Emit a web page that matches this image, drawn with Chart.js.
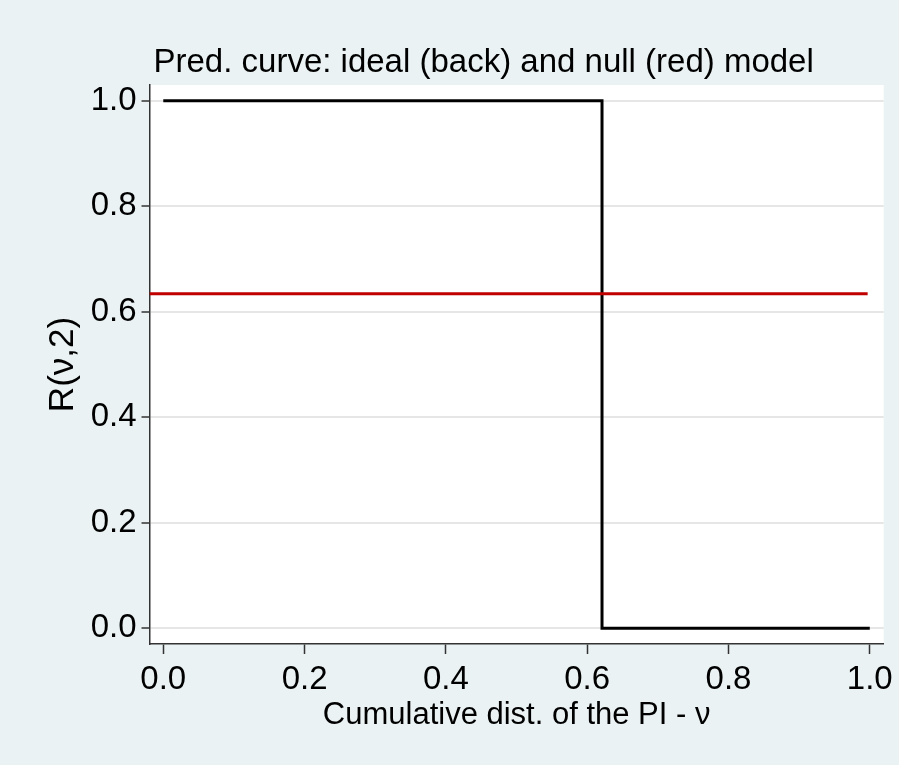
<!DOCTYPE html>
<html>
<head>
<meta charset="utf-8">
<script src="https://cdn.jsdelivr.net/npm/chart.js@4"></script>
<style>
  body { margin: 0; background: #eaf2f3; }
  canvas { display: block; }
</style>
</head>
<body>
<canvas id="graphe" width="899" height="765"></canvas>
<script>
// Courbe prédictive : modèle idéal (noir) et modèle nul (rouge)

const titre = "Pred. curve: ideal (back) and null (red) model";
const titreX = "Cumulative dist. of the PI - ν";
const titreY = "R(ν,2)";

const idealX = [0, 0.621, 0.621, 1];
const idealY = [1, 1, 0, 0];
const nulX = [-0.0195, 0.997];
const nulY = [0.634, 0.634];

const ticksX = [0, 0.2, 0.4, 0.6, 0.8, 1.0];
const ticksY = [0, 0.2, 0.4, 0.6, 0.8, 1.0];

const police = "'Liberation Sans', Arial, sans-serif";

function points(xs, ys) {
  return xs.map((x, i) => ({ x: x, y: ys[i] }));
}

const fond = {
  id: "fond",
  beforeDraw(chart) {
    const { ctx, chartArea: a } = chart;
    ctx.save();
    ctx.fillStyle = "#eaf2f3";
    ctx.fillRect(0, 0, chart.width, chart.height);
    ctx.fillStyle = "#ffffff";
    ctx.fillRect(a.left, a.top, a.right - a.left, a.bottom - a.top);
    ctx.restore();
  },
  afterDraw(chart) {
    const { ctx, chartArea: a } = chart;
    ctx.save();
    ctx.fillStyle = "#000";
    ctx.font = "33px " + police;
    ctx.textAlign = "left";
    ctx.textBaseline = "alphabetic";
    ctx.fillText(titre, a.left + 4, 72);
    ctx.restore();
  },
};

new Chart(document.getElementById("graphe"), {
  type: "line",
  data: {
    datasets: [
      {
        label: "null",
        data: points(nulX, nulY),
        borderColor: "#c00000",
        borderWidth: 3,
        pointRadius: 0,
        tension: 0,
      },
      {
        label: "ideal",
        data: points(idealX, idealY),
        borderColor: "#000000",
        borderWidth: 3,
        pointRadius: 0,
        tension: 0,
      },
    ],
  },
  plugins: [fond],
  options: {
    responsive: false,
    animation: false,
    layout: { padding: { top: 85, right: 15, left: 0, bottom: 0 } },
    plugins: { legend: { display: false }, tooltip: { enabled: false } },
    scales: {
      x: {
        type: "linear",
        min: -0.0195,
        max: 1.0198,
        afterBuildTicks: (s) => { s.ticks = ticksX.map((v) => ({ value: v })); },
        afterFit: (s) => { s.height = 121; },
        ticks: {
          color: "#000",
          font: { family: police, size: 33 },
          padding: 6,
          maxRotation: 0,
          autoSkip: false,
          callback: (v) => v.toFixed(1),
        },
        grid: { drawOnChartArea: false, tickLength: 10, tickColor: "#333", tickWidth: 1.5 },
        border: { color: "#333", width: 1.5 },
        title: {
          display: true,
          text: titreX,
          color: "#000",
          font: { family: police, size: 31 },
          padding: { top: 31, bottom: 31 },
        },
      },
      y: {
        type: "linear",
        min: -0.030,
        max: 1.030,
        afterBuildTicks: (s) => { s.ticks = ticksY.map((v) => ({ value: v })); },
        afterFit: (s) => { s.width = 149.5; },
        ticks: {
          color: "#000",
          font: { family: police, size: 33 },
          padding: 5,
          callback: (v) => v.toFixed(1),
        },
        grid: { color: "#e6e6e6", lineWidth: 2, tickLength: 8, tickColor: "#333", tickWidth: 1.5 },
        border: { color: "#333", width: 1.5 },
        title: {
          display: true,
          text: titreY,
          color: "#000",
          font: { family: police, size: 35 },
          padding: { top: 42, bottom: 42 },
        },
      },
    },
  },
});
</script>
</body>
</html>
